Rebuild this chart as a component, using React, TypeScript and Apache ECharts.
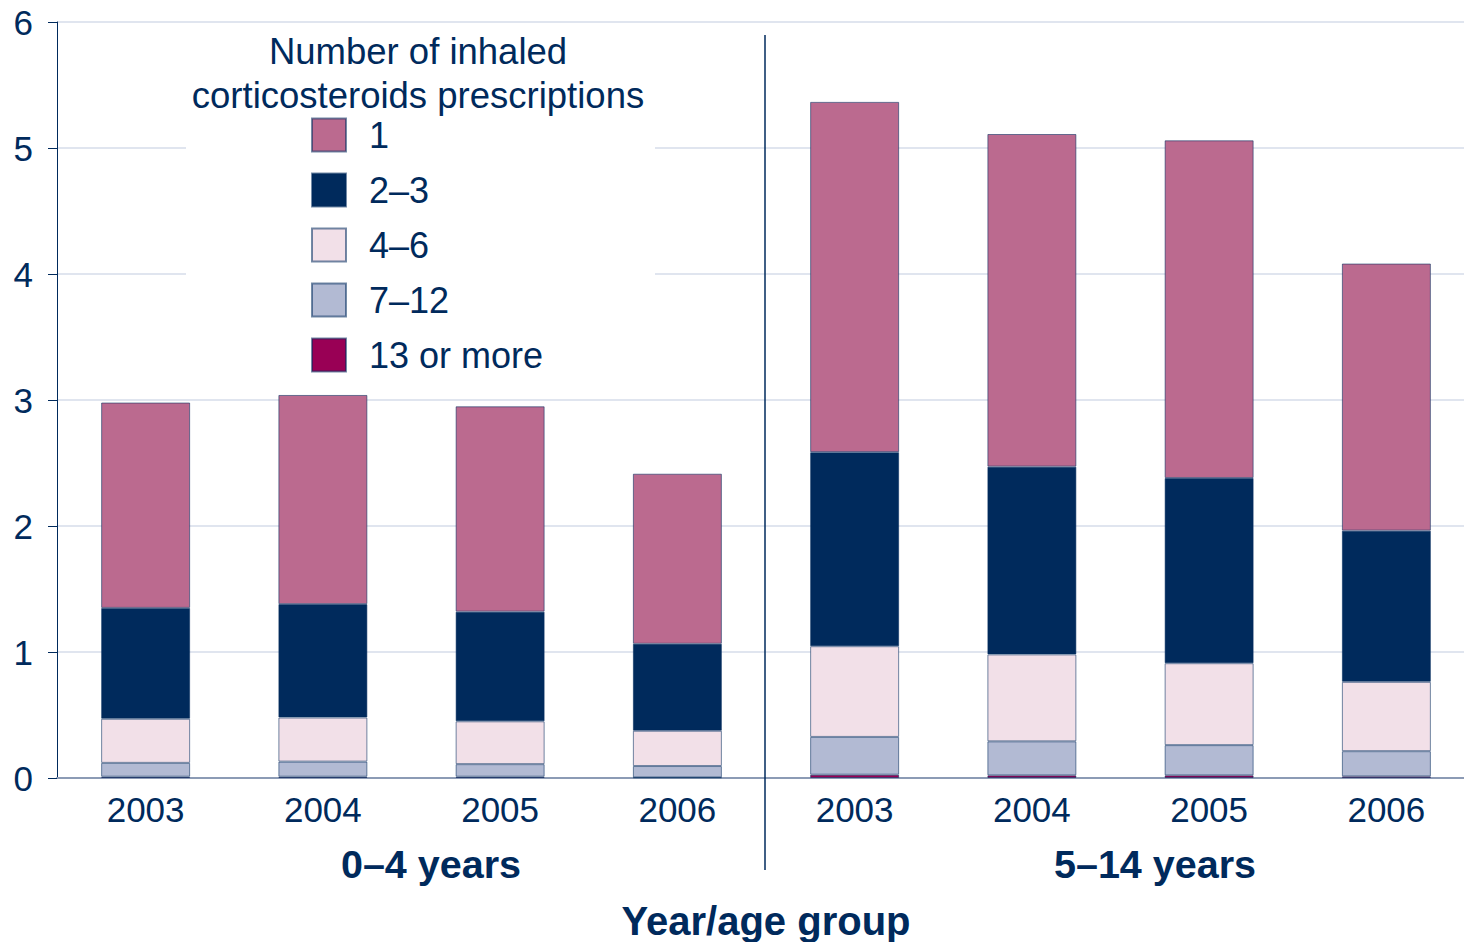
import React, { useEffect, useRef } from "react";
import * as echarts from "echarts";

const categories = ["2003", "2004", "2005", "2006", "2003", "2004", "2005", "2006"];
const groupLabels = ["0–4 years", "5–14 years"];
const xAxisTitle = "Year/age group";
const legendTitle = "Number of inhaled\ncorticosteroids prescriptions";
const yTicks = [0, 1, 2, 3, 4, 5, 6];

const seriesNames = ["1", "2–3", "4–6", "7–12", "13 or more"];
const s13plus = [0.01, 0.01, 0.01, 0.005, 0.026, 0.021, 0.021, 0.013];
const s7to12 = [0.11, 0.12, 0.1, 0.09, 0.3, 0.27, 0.24, 0.2];
const s4to6 = [0.35, 0.35, 0.34, 0.28, 0.72, 0.69, 0.65, 0.55];
const s2to3 = [0.88, 0.9, 0.87, 0.69, 1.54, 1.49, 1.47, 1.2];
const s1 = [1.63, 1.66, 1.63, 1.35, 2.78, 2.64, 2.68, 2.12];

const NAVY = "#002a5c";
const FONT = "'Liberation Sans', Arial, sans-serif";

export default function App() {
  const ref = useRef<HTMLDivElement>(null);
  useEffect(() => {
    if (!ref.current) return;
    const chart = echarts.init(ref.current, null, { renderer: "svg" });
    const mk = (name: string, data: number[], color: string) => ({
      name,
      type: "bar",
      stack: "total",
      data,
      barWidth: 89,
      itemStyle: { color, borderColor: "rgba(0,42,92,0.55)", borderWidth: 1 },
    });
    chart.setOption({
      animation: false,
      backgroundColor: "#ffffff",
      textStyle: { fontFamily: FONT },
      grid: { left: 57, top: 22, width: 1418, height: 756, containLabel: false },
      xAxis: {
        type: "category",
        data: categories,
        axisLine: { lineStyle: { color: "#8c9bb5", width: 2 } },
        axisTick: { show: false },
        axisLabel: { fontSize: 35, color: NAVY, margin: 14, fontFamily: FONT },
        splitLine: { show: false },
      },
      yAxis: {
        type: "value",
        min: yTicks[0],
        max: yTicks[yTicks.length - 1],
        interval: 1,
        axisLine: { show: true, lineStyle: { color: NAVY, width: 1 } },
        axisTick: { show: true, length: 9, lineStyle: { color: NAVY } },
        axisLabel: { fontSize: 35, color: NAVY, margin: 24, fontFamily: FONT },
        splitLine: { lineStyle: { color: "#d6dcea", width: 1.5 } },
      },
      legend: {
        orient: "vertical",
        left: 311,
        top: 117,
        padding: 0,
        itemWidth: 34,
        itemHeight: 33,
        itemGap: 19,
        icon: "rect",
        data: seriesNames,
        textStyle: {
          fontSize: 36,
          color: NAVY,
          fontFamily: FONT,
          lineHeight: 33,
          padding: [0, 0, 0, 18],
        },
        selectedMode: false,
      },
      graphic: [
        {
          type: "rect",
          z: 1,
          shape: { x: 186, y: 28, width: 469, height: 356 },
          style: { fill: "#ffffff" },
        },
        {
          type: "text",
          z: 5,
          x: 418,
          y: 73,
          style: {
            text: legendTitle,
            fontSize: 36.5,
            fontFamily: FONT,
            fill: NAVY,
            align: "center",
            verticalAlign: "middle",
            lineHeight: 44,
          },
        },
        {
          type: "line",
          z: 5,
          shape: { x1: 765, y1: 35, x2: 765, y2: 870 },
          style: { stroke: NAVY, lineWidth: 1.5 },
        },
        {
          type: "text",
          z: 5,
          x: 431,
          y: 864,
          style: {
            text: groupLabels[0],
            fontSize: 39.5,
            fontWeight: "bold",
            fontFamily: FONT,
            fill: NAVY,
            align: "center",
            verticalAlign: "middle",
          },
        },
        {
          type: "text",
          z: 5,
          x: 1155,
          y: 864,
          style: {
            text: groupLabels[1],
            fontSize: 39.5,
            fontWeight: "bold",
            fontFamily: FONT,
            fill: NAVY,
            align: "center",
            verticalAlign: "middle",
          },
        },
        {
          type: "text",
          z: 5,
          x: 766,
          y: 921,
          style: {
            text: xAxisTitle,
            fontSize: 40,
            fontWeight: "bold",
            fontFamily: FONT,
            fill: NAVY,
            align: "center",
            verticalAlign: "middle",
          },
        },
      ],
      series: [
        mk(seriesNames[4], s13plus, "#990055"),
        mk(seriesNames[3], s7to12, "#b2bad3"),
        mk(seriesNames[2], s4to6, "#f2e0e8"),
        mk(seriesNames[1], s2to3, "#002a5c"),
        mk(seriesNames[0], s1, "#bb6a8f"),
      ],
    });
    return () => chart.dispose();
  }, []);
  return (
    <div
      style={{
        position: "fixed",
        left: 0,
        top: 0,
        width: 1464,
        height: 942,
        overflow: "hidden",
        background: "#fff",
      }}
    >
      <div ref={ref} style={{ width: 1480, height: 942 }} />
    </div>
  );
}
